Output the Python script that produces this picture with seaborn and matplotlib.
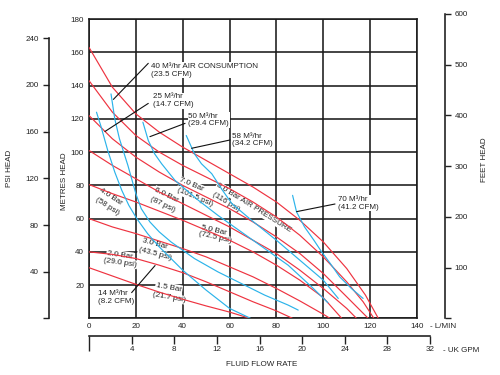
import matplotlib
matplotlib.use("Agg")
import matplotlib.pyplot as plt
import seaborn as sns
import pandas as pd

sns.set_theme(style="white")
plt.rcParams['font.family'] = ['Liberation Sans', 'DejaVu Sans']

# ---- data (flow L/min, head metres) ----
p15_q = [0, 10, 20, 30, 40, 50, 60, 68.7]
p15_h = [30.5, 25.5, 20.5, 15.8, 11.5, 7.5, 3.8, 0]
p20_q = [0, 10, 20, 30, 40, 50, 60, 70, 80, 86.9]
p20_h = [40, 38.5, 36, 32, 27.5, 22, 16, 10, 4.5, 0]
p30_q = [0, 10, 20, 30, 40, 50, 60, 70, 80, 90, 100, 102.9]
p30_h = [60, 55, 51, 46.5, 42, 37, 31, 25, 18, 10.5, 2.5, 0]
p40_q = [0, 10, 20, 30, 40, 50, 60, 70, 80, 90, 100, 107.9]
p40_h = [80.5, 75, 70, 64.5, 59, 53, 47, 40, 32, 23, 12.5, 0]
p50_q = [0, 10, 20, 30, 40, 50, 60, 70, 80, 90, 100, 110, 114.2]
p50_h = [101, 92, 84, 76, 69, 62, 55, 47, 39, 29, 18, 6, 0]
p60_q = [0, 10, 20, 30, 40, 50, 60, 70, 80, 90, 100, 110, 119.2]
p60_h = [122, 108, 97, 88, 80, 73, 66, 58, 49, 39, 27, 13, 0]
p70_q = [0, 10, 20, 30, 40, 50, 60, 70, 80, 90, 100, 110, 117, 121.6]
p70_h = [143, 124, 110, 100, 92, 85, 78, 70, 61, 50, 37, 22, 10, 0]
p80_q = [0, 10, 20, 30, 40, 50, 60, 70, 80, 90, 100, 110, 118, 123.5]
p80_h = [163, 139, 123, 112, 103, 95, 87, 79, 70, 59, 46, 30, 14, 0]

a25_q = [3.2, 5, 8, 11, 14, 17, 20.4, 25, 30, 35, 40, 50, 60, 69]
a25_h = [124, 116, 101, 88, 77, 68, 60, 51, 43, 36, 29, 17, 6, 0]
a40_q = [9.4, 11, 13, 16.6, 20, 22.3, 26, 30, 35, 45, 55, 65, 75, 85, 89.3]
a40_h = [135, 120, 108, 92, 75, 66, 58, 52, 46, 36, 28, 21, 14, 8, 5]
a50_q = [23, 25.3, 28, 31, 36.7, 46.7, 55, 65, 75, 85, 95, 102]
a50_h = [118, 107, 99, 93, 83, 71, 62, 52, 42, 32, 19, 9.4]
a58_q = [41.5, 45, 48, 52.4, 57, 61, 69.4, 80, 90, 100, 106.4]
a58_h = [110, 99, 93, 87, 77, 69, 59, 47, 35, 23, 12]
a70_q = [86.9, 88.6, 92, 96, 99.3, 103, 107, 112, 117]
a70_h = [74, 64, 55, 47, 40, 33, 25, 18, 12]

pressure_curves = [(p15_q, p15_h), (p20_q, p20_h), (p30_q, p30_h), (p40_q, p40_h),
                   (p50_q, p50_h), (p60_q, p60_h), (p70_q, p70_h), (p80_q, p80_h)]
air_curves = [(a25_q, a25_h), (a40_q, a40_h), (a50_q, a50_h),
              (a58_q, a58_h), (a70_q, a70_h)]

x_ticks = [0, 20, 40, 60, 80, 100, 120, 140]
y_ticks = [0, 20, 40, 60, 80, 100, 120, 140, 160, 180]
psi_ticks = [0, 40, 80, 120, 160, 200, 240]
feet_ticks = [0, 100, 200, 300, 400, 500, 600]
gpm_ticks = [0, 4, 8, 12, 16, 20, 24, 28, 32]

RED = '#ee3340'
BLUE = '#2bb3ea'
FS = 5.8
W, H = 500, 375

def fx(px):
    return px / W

def fy(py):
    return 1 - py / H

fig = plt.figure(figsize=(5, 3.75), dpi=100)
fig.patch.set_facecolor('white')

# main axes
ax = fig.add_axes([fx(89), fy(318.4), (417 - 89) / W, (318.4 - 19.1) / H])
ax.set_xlim(0, 140)
ax.set_ylim(0, 180)
ax.set_xticks(x_ticks)
ax.set_yticks(y_ticks)
ax.set_xticklabels([str(t) for t in x_ticks], fontsize=FS)
ax.set_yticklabels(['' if t == 0 else str(t) for t in y_ticks], fontsize=FS)
ax.tick_params(axis='both', length=0, pad=3.5, colors='#222222')
ax.grid(True, color='#1a1a1a', linewidth=1.15)
ax.set_axisbelow(True)
for s in ax.spines.values():
    s.set_color('#1a1a1a')
    s.set_linewidth(1.15)
ax.set_facecolor('white')

for q, h in pressure_curves:
    sns.lineplot(x=q, y=h, ax=ax, color=RED, linewidth=0.85, sort=False,
                 estimator=None, zorder=4)
for q, h in air_curves:
    sns.lineplot(x=q, y=h, ax=ax, color=BLUE, linewidth=0.85, sort=False,
                 estimator=None, zorder=4)
ax.set_xlabel('')
ax.set_ylabel('')

box = dict(facecolor='white', edgecolor='none', pad=0.6)

def lab(x, y, s, rot=0, ha='center', va='center', bbox=True):
    ax.text(x, y, s, fontsize=FS, rotation=rot, ha=ha, va=va,
            rotation_mode='anchor', color='#222222', zorder=3,
            bbox=box if bbox else None, linespacing=1.1)

def leader(x0, y0, x1, y1):
    ax.annotate('', xy=(x1, y1), xytext=(x0, y0),
                arrowprops=dict(arrowstyle='-', color='#111111', lw=0.8,
                                shrinkA=0, shrinkB=0), zorder=5)

# pressure labels
lab(55.5, 82.0, '8.0 Bar AIR PRESSURE', rot=-32, ha='left', va='top')
lab(53.5, 76.5, '(116 psi)', rot=-32, ha='left', va='top')
lab(43.7, 80.2, '7.0 Bar', rot=-23)
lab(45.0, 73.0, '(101.5 psi)', rot=-23)
lab(33.1, 74.2, '6.0 Bar', rot=-26)
lab(31.4, 68.2, '(87 psi)', rot=-26)
lab(9.2, 73.0, '4.0 Bar', rot=-33)
lab(7.6, 67.6, '(58 psi)', rot=-33)
lab(53.1, 52.7, '5.0 Bar', rot=-13)
lab(53.8, 48.6, '(72.5 psi)', rot=-13)
lab(28.2, 44.7, '3.0 Bar', rot=-15)
lab(28.2, 38.7, '(43.5 psi)', rot=-15)
lab(13.2, 38.1, '2.0 Bar', rot=-8)
lab(13.2, 33.6, '(29.0 psi)', rot=-8)
lab(34.1, 18.6, '1.5 Bar', rot=-10)
lab(34.1, 12.6, '(21.7 psi)', rot=-10)

# air consumption labels
lab(26.3, 149.2, '40 M³/hr AIR CONSUMPTION\n(23.5 CFM)', ha='left')
leader(25.3, 153.4, 10.4, 131.7)
lab(27.2, 130.9, '25 M³/hr\n(14.7 CFM)', ha='left')
leader(25.3, 129.3, 6.8, 112.4)
lab(42.4, 119.3, '50 M³/hr\n(29.4 CFM)', ha='left')
leader(41.0, 117.3, 26.0, 109.3)
lab(60.9, 107.3, '58 M³/hr\n(34.2 CFM)', ha='left')
leader(60.2, 107.3, 43.8, 102.3)
lab(106.4, 69.2, '70 M³/hr\n(41.2 CFM)', ha='left')
leader(105.0, 68.8, 88.6, 64.2)
lab(3.8, 12.7, '14 M³/hr\n(8.2 CFM)', ha='left')
leader(18.2, 15.5, 28.2, 31.8)

fig.text(fx(430), fy(327), '- L/MIN', fontsize=FS, ha='left', va='center', color='#222222')

# PSI axis
pax = fig.add_axes([fx(49), fy(318.4), 0.0001, (318.4 - 38.2) / H])
pax.set_ylim(0, 240)
pax.set_yticks(psi_ticks)
pax.set_yticklabels(['' if t == 0 else str(t) for t in psi_ticks], fontsize=FS)
pax.tick_params(axis='y', direction='out', length=4.3, width=1.0, pad=3,
                left=True, colors='#222222')
pax.set_xticks([])
for k in ['top', 'right', 'bottom']:
    pax.spines[k].set_visible(False)
pax.spines['left'].set_color('#1a1a1a')
pax.spines['left'].set_linewidth(1.15)
pax.patch.set_visible(False)

# FEET axis
fax = fig.add_axes([fx(445), fy(318.4), 0.0001, (318.4 - 14) / H])
fax.set_ylim(0, 600)
fax.yaxis.tick_right()
fax.set_yticks(feet_ticks)
fax.set_yticklabels(['' if t == 0 else str(t) for t in feet_ticks], fontsize=FS)
fax.tick_params(axis='y', direction='out', length=4, width=1.0, pad=3,
                right=True, left=False, colors='#222222')
fax.set_xticks([])
for k in ['top', 'left', 'bottom']:
    fax.spines[k].set_visible(False)
fax.spines['right'].set_color('#1a1a1a')
fax.spines['right'].set_linewidth(1.15)
fax.patch.set_visible(False)

# GPM axis
gax = fig.add_axes([fx(89), fy(335.7), (430 - 89) / W, 0.0001])
gax.set_xlim(0, 32)
gax.set_xticks(gpm_ticks)
gax.set_xticklabels(['' if t == 0 else str(t) for t in gpm_ticks], fontsize=FS)
gax.tick_params(axis='x', direction='out', length=5.5, width=1.0, pad=2,
                bottom=True, colors='#222222')
gax.xaxis.get_major_ticks()[0].tick1line.set_markersize(11)
gax.set_yticks([])
for k in ['top', 'left', 'right']:
    gax.spines[k].set_visible(False)
gax.spines['bottom'].set_color('#1a1a1a')
gax.spines['bottom'].set_linewidth(1.15)
gax.patch.set_visible(False)

fig.text(fx(443), fy(351), '- UK GPM', fontsize=FS, ha='left', va='center', color='#222222')
fig.text(fx(262), fy(365), 'FLUID FLOW RATE', fontsize=FS, ha='center', va='center', color='#222222')
fig.text(fx(10), fy(168), 'PSI HEAD', fontsize=FS, rotation=90, ha='center', va='center', color='#222222')
fig.text(fx(65), fy(181), 'METRES HEAD', fontsize=FS, rotation=90, ha='center', va='center', color='#222222')
fig.text(fx(485), fy(160), 'FEET HEAD', fontsize=FS, rotation=90, ha='center', va='center', color='#222222')

fig.savefig('out.png', dpi=100, facecolor='white')
